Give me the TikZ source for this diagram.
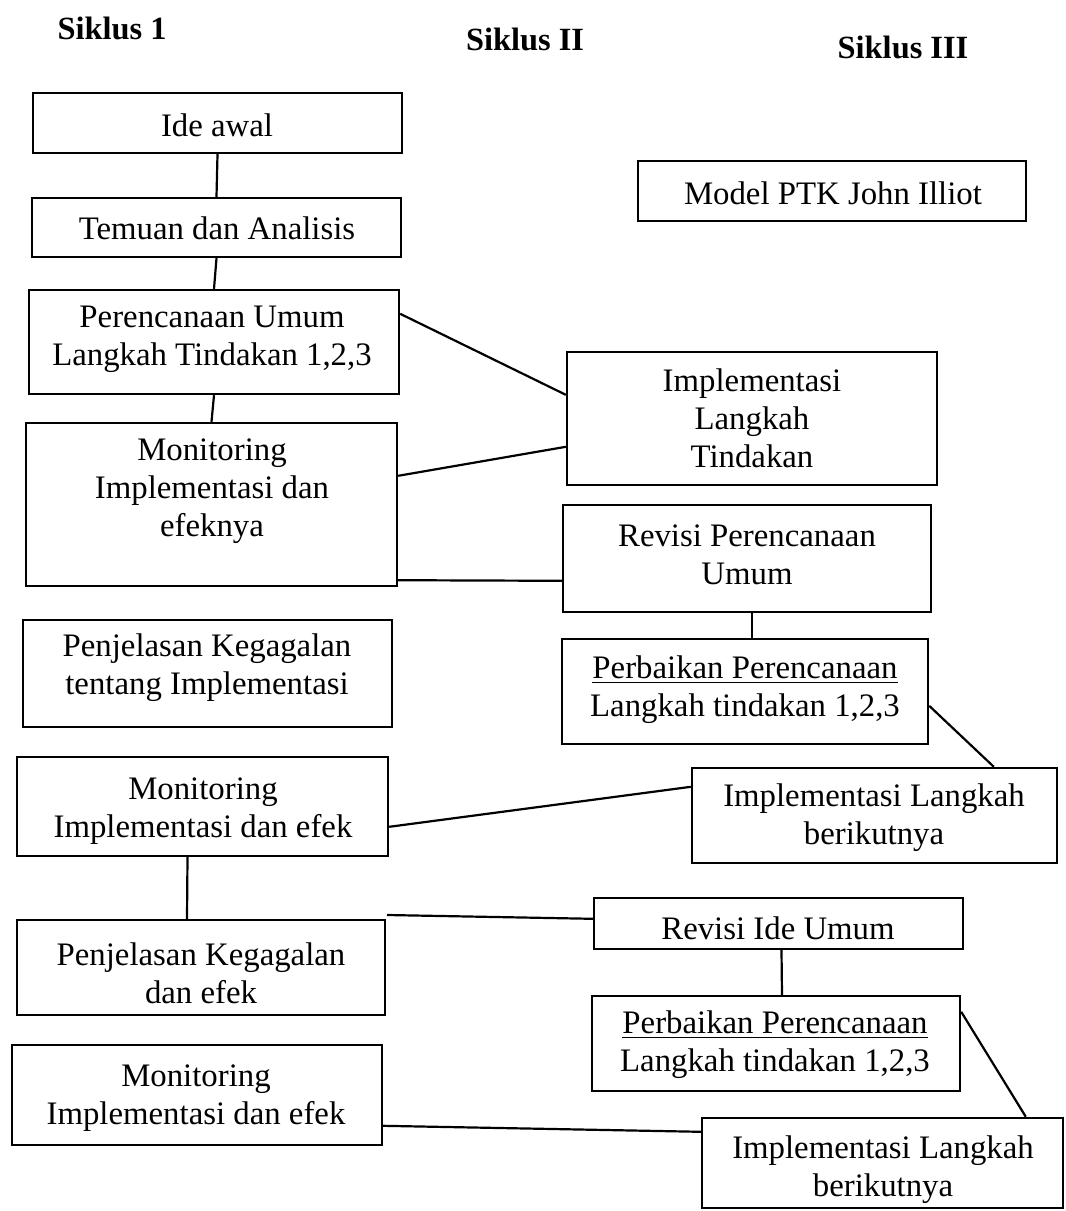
\documentclass[tikz,border=0pt]{standalone}
\usepackage{fontspec}
\setmainfont{Liberation Serif}
\usetikzlibrary{fit,calc}
\begin{document}
\begin{tikzpicture}[x=0.5pt,y=-0.5pt,
  box/.style={draw, line width=1.2pt, inner sep=0pt},
  txt/.style={align=center, inner sep=0pt, font=\fontsize{16.4}{19}\selectfont},
  head/.style={inner sep=0pt, font=\fontsize{16.2}{19}\selectfont\bfseries},
  conn/.style={line width=1.1pt}]
\useasboundingbox (0,0) rectangle (1066,1211);

% headings
\node[head] (h1) at (112,28) {Siklus 1};
\node[head] (h2) at (525,39) {Siklus II};
\node[head] (h3) at (903,47) {Siklus III};

% boxes
\node[box, fit={(33,93) (402,153)}] (ide) {};
\node[box, fit={(32,198) (401,257)}] (temuan) {};
\node[box, fit={(29,290) (399,394)}] (perenc) {};
\node[box, fit={(26,423) (397,586)}] (monit) {};
\node[box, fit={(638,161) (1026,221)}] (model) {};
\node[box, fit={(567,352) (937,485)}] (impl) {};
\node[box, fit={(563,505) (931,612)}] (revper) {};
\node[box, fit={(23,620) (392,727)}] (penj1) {};
\node[box, fit={(562,639) (928,744)}] (perb1) {};
\node[box, fit={(692,768) (1057,863)}] (implb1) {};
\node[box, fit={(17,757) (388,856)}] (monit1) {};
\node[box, fit={(594,898) (963,949)}] (revide) {};
\node[box, fit={(17,920) (385,1015)}] (penj2) {};
\node[box, fit={(592,996) (960,1091)}] (perb2) {};
\node[box, fit={(702,1118) (1063,1208)}] (implb2) {};
\node[box, fit={(12,1045) (382,1145)}] (monit2) {};

% texts
\node[txt] (ide-t) at (217,125) {Ide awal};
\node[txt] (temuan-t) at (217,228) {Temuan dan Analisis};
\node[txt] (perenc-t) at (212,339) {Perencanaan Umum\\Langkah Tindakan 1,2,3};
\node[txt] (monit-t) at (212,491) {Monitoring\\Implementasi dan\\efeknya};
\node[txt] (model-t) at (833,193) {Model PTK John Illiot};
\node[txt] (impl-t) at (752,418) {Implementasi\\Langkah\\Tindakan};
\node[txt] (revper-t) at (747,555) {Revisi Perencanaan\\Umum};
\node[txt] (penj1-t) at (207,668) {Penjelasan Kegagalan\\tentang Implementasi};
\node[txt] (perb1-t) at (745,690) {\underline{Perbaikan Perencanaan}\\Langkah tindakan 1,2,3};
\node[txt] (implb1-t) at (874,818) {Implementasi Langkah\\berikutnya};
\node[txt] (monit1-t) at (203,811) {Monitoring\\Implementasi dan efek};
\node[txt] (revide-t) at (778,928) {Revisi Ide Umum};
\node[txt] (penj2-t) at (201,973) {Penjelasan Kegagalan\\dan efek};
\node[txt] (perb2-t) at (775,1045) {\underline{Perbaikan Perencanaan}\\Langkah tindakan 1,2,3};
\node[txt] (implb2-t) at (883,1170) {Implementasi Langkah\\berikutnya};
\node[txt] (monit2-t) at (196,1098) {Monitoring\\Implementasi dan efek};

% connectors
\draw[conn] (ide.south) -- (temuan.north);
\draw[conn] (temuan.south) -- (perenc.north);
\draw[conn] (perenc.south) -- (monit.north);
\draw[conn] ($(perenc.north east)+(0,25)$) -- ($(impl.north west)+(0,44)$);
\draw[conn] ($(monit.north east)+(0,54)$) -- ($(impl.north west)+(0,96)$);
\draw[conn] ($(monit.south east)+(0,-7)$) -- ($(revper.north west)+(0,77)$);
\draw[conn] ($(revper.south)+(5,0)$) -- ($(perb1.north)+(7,0)$);
\draw[conn] ($(perb1.north east)+(0,68)$) -- ($(implb1.north west)+(303,0)$);
\draw[conn] ($(monit1.north east)+(0,71)$) -- ($(implb1.north west)+(0,20)$);
\draw[conn] ($(monit1.south)+(-15,0)$) -- ($(penj2.north)+(-14,0)$);
\coordinate (free) at (387,915);
\draw[conn] (free) -- ($(revide.north west)+(0,22)$);
\draw[conn] ($(revide.south)+(3,0)$) -- ($(perb2.north)+(6,0)$);
\draw[conn] ($(perb2.north east)+(0,17)$) -- ($(implb2.north west)+(325,0)$);
\draw[conn] ($(monit2.north east)+(0,82)$) -- ($(implb2.north west)+(0,15)$);
\end{tikzpicture}
\end{document}
